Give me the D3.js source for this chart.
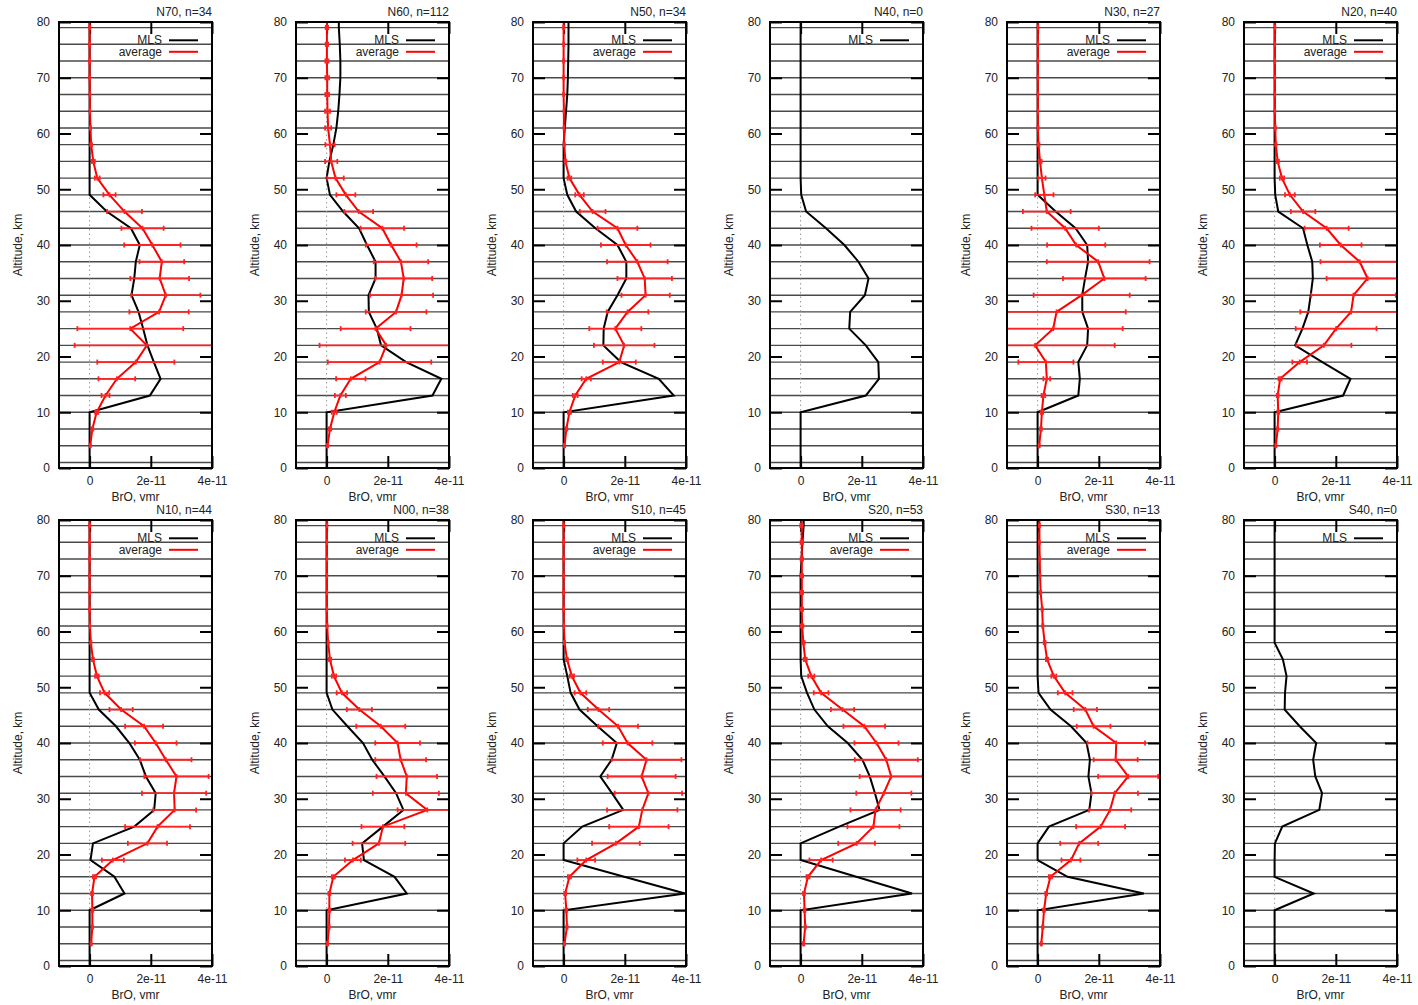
<!DOCTYPE html>
<html>
<head>
<meta charset="utf-8">
<script src="https://cdnjs.cloudflare.com/ajax/libs/d3/7.8.5/d3.min.js"></script>
<style>
body { margin: 0; background: #fff; }
svg text { font-family: "Liberation Sans", Arial, sans-serif; font-size: 12px; fill: #222; }
</style>
</head>
<body>
<svg id="chart" width="1418" height="1005"></svg>
<script>
// altitude levels, km (one per horizontal line)
var levels = [1, 4, 7, 10, 13, 16, 19, 22, 25, 28, 31, 34, 37, 40, 43, 46, 49, 52, 55, 58, 61, 64, 67, 70, 73, 76, 79];

// all BrO values below are in units of 1e-11 vmr
var UNIT = 1e-11;

var mlsN70 = [0,0,0,0,1.97,2.32,2.1,1.89,1.75,1.6,1.37,1.46,1.51,1.64,1.35,0.56,0,0,0,0,0,0,0,0,0,0,0];
var avgN70 = [null,0.02,0.09,0.23,0.52,0.89,1.51,1.87,1.33,2.27,2.49,2.29,2.36,2.05,1.73,1.14,0.65,0.25,0.12,0.05,0.03,0.01,0.01,0,0,0,0];
var errN70 = [null,0.02,0.03,0.05,0.13,0.6,1.26,2.36,1.73,0.97,1.13,0.96,0.73,0.92,0.69,0.57,0.2,0.08,0.05,0.03,0.02,0.01,0.01,0.01,0.01,0.01,0.01];

var mlsN60 = [0,0,0,0,3.46,3.75,2.6,1.78,1.64,1.38,1.37,1.6,1.6,1.32,1.06,0.54,0.11,0,0.09,0.22,0.32,0.38,0.42,0.45,0.45,0.43,0.4];
var avgN60 = [null,0.03,0.11,0.25,0.45,0.79,1.73,1.95,1.6,2.27,2.45,2.52,2.43,2.11,1.82,1.05,0.63,0.29,0.15,0.11,0.05,0.03,0.02,0.02,0.01,0.01,0.01];
var errN60 = [null,0.02,0.04,0.08,0.18,0.48,1.69,2.18,1.14,0.99,1.03,0.93,0.89,0.83,0.71,0.47,0.31,0.27,0.2,0.15,0.1,0.08,0.06,0.06,0.05,0.04,0.04];

var mlsN50 = [0,0,0,0,3.6,3.11,1.87,1.3,1.31,1.44,1.76,2.05,2.05,1.76,1.04,0.41,0.12,0,0,0,0.04,0.08,0.12,0.14,0.15,0.16,0.16];
var avgN50 = [null,0.03,0.09,0.19,0.38,0.74,1.82,1.98,1.69,2.09,2.68,2.65,2.41,2.03,1.76,0.95,0.52,0.19,0.06,0.02,0.01,0.01,0,0,0,0,0];
var errN50 = [null,0.02,0.03,0.05,0.08,0.15,0.54,0.99,0.85,0.68,0.79,0.89,0.99,0.81,0.65,0.42,0.14,0.06,0.03,0.02,0.01,0.01,0.01,0.01,0.01,0.01,0.01];

var mlsN40 = [0,0,0,0,2.13,2.56,2.54,2.13,1.59,1.62,2.1,2.22,1.89,1.43,0.83,0.18,0.02,0,0,0,0,0,0,0,0,0,0];

var mlsN30 = [0,0,0,0,1.33,1.38,1.33,1.62,1.65,1.46,1.46,1.55,1.65,1.62,1.24,0.59,0,0,0,0,0,0,0,0,0,0,0];
var avgN30 = [null,0.05,0.11,0.14,0.19,0.3,0.27,-0.08,0.51,0.62,1.44,2.18,1.98,1.26,0.9,0.3,0.22,0.14,0.08,0.03,0.01,0.01,0.01,0.01,0.01,0.01,0.01];
var errN30 = [null,0.02,0.03,0.04,0.06,0.11,0.9,2.6,2.27,2.26,1.57,1.35,1.68,0.95,1.1,0.78,0.3,0.12,0.05,0.03,0.02,0.01,0.01,0.01,0.01,0.01,0.01];

var mlsN20 = [0,0,0,0,2.24,2.48,1.56,0.67,0.91,1.1,1.18,1.25,1.23,1.07,0.93,0.12,0.02,0,0,0,0,0,0,0,0,0,0];
var avgN20 = [null,0.04,0.1,0.12,0.1,0.18,0.82,1.61,2.01,2.5,2.58,3.04,2.78,2.16,1.7,0.93,0.5,0.24,0.1,0.04,0.02,0.01,0.01,0.01,0.01,0.01,0.01];
var errN20 = [null,0.02,0.02,0.03,0.03,0.05,0.24,0.9,1.32,1.66,1.38,1.34,1.28,0.68,0.72,0.4,0.16,0.07,0.04,0.02,0.02,0.01,0.01,0.01,0.01,0.01,0.01];

var mlsN10 = [0,0,0,0,1.14,0.81,0.03,0.11,1.46,2.11,2.16,1.84,1.64,1.3,0.86,0.3,0,0,0,0,0,0,0,0,0,0,0];
var avgN10 = [null,0.05,0.09,0.09,0.08,0.16,0.76,1.89,2.22,2.78,2.76,2.84,2.49,2.16,1.78,1.03,0.49,0.24,0.11,0.04,0.01,0,0,0,0,0,0];
var errN10 = [null,0.02,0.02,0.03,0.03,0.05,0.36,0.64,1.06,0.7,1.05,1.05,0.84,0.68,0.62,0.38,0.15,0.06,0.03,0.02,0.01,0.01,0.01,0.01,0.01,0.01,0.01];

var mlsN00 = [0,0,0,0,2.62,2.22,1.22,1.16,1.84,2.51,2.27,1.89,1.49,1.19,0.68,0.19,0,0,0,0,0,0,0,0,0,0,0];
var avgN00 = [null,0.03,0.08,0.09,0.09,0.22,0.86,1.71,1.84,3.29,2.59,2.62,2.42,2.32,1.77,1.07,0.5,0.24,0.11,0.05,0.02,0.01,0.01,0.01,0.01,0.01,0.01];
var errN00 = [null,0.02,0.02,0.03,0.03,0.05,0.26,0.86,0.7,0.97,1.08,0.99,0.83,0.73,0.8,0.41,0.17,0.07,0.04,0.02,0.01,0.01,0.01,0.01,0.01,0.01,0.01];

var mlsS10 = [0,0,0,0,3.97,1.98,0,0,0.61,1.95,1.58,1.2,1.57,1.74,1.11,0.52,0.23,0.12,0,0,0,0,0,0,0,0,0];
var avgS10 = [null,0.03,0.11,0.09,0.05,0.19,0.74,1.71,2.46,2.57,2.77,2.55,2.71,2.09,1.78,1.14,0.55,0.27,0.11,0.03,0.01,0,0,0,0,0,0];
var errS10 = [null,0.02,0.02,0.03,0.03,0.05,0.29,0.78,0.97,1.15,1.1,1.11,1.14,0.81,0.65,0.35,0.19,0.07,0.03,0.02,0.01,0.01,0.01,0.01,0.01,0.01,0.01];

var mlsS20 = [0,0,0,0,3.64,1.82,0,0,1.26,2.58,2.43,2.26,2.02,1.54,0.89,0.45,0.21,0.02,0,0,0,0,0,0,0.03,0.06,0.1];
var avgS20 = [null,0.1,0.15,0.13,0.11,0.24,0.67,1.83,2.38,2.45,2.72,2.96,2.8,2.48,2.08,1.37,0.67,0.35,0.15,0.09,0.05,0.04,0.04,0.04,0.04,0.04,0.03];
var errS20 = [null,0.02,0.02,0.03,0.03,0.05,0.38,0.6,0.85,0.82,0.9,1.03,1.03,0.72,0.68,0.38,0.24,0.1,0.05,0.04,0.04,0.04,0.04,0.04,0.04,0.04,0.04];

var mlsS30 = [0,0,0,0,3.47,0.98,0,0,0.37,1.69,1.76,1.66,1.71,1.6,1.09,0.42,0.03,0,0,0,0,0,0,0,0,0,0];
var avgS30 = [null,0.12,0.17,0.21,0.28,0.42,1.09,1.36,2.06,2.37,2.52,2.96,2.55,2.57,1.83,1.56,0.9,0.53,0.31,0.23,0.17,0.15,0.1,0.08,0.07,0.06,0.06];
var errS30 = [null,0.02,0.02,0.03,0.03,0.05,0.31,0.62,0.8,0.69,0.76,0.98,0.72,0.94,0.55,0.38,0.24,0.08,0.04,0.03,0.02,0.02,0.02,0.01,0.01,0.01,0.01];

var mlsS40 = [0,0,0,0,1.28,0,0,0.01,0.25,1.46,1.55,1.33,1.26,1.36,0.82,0.33,0.34,0.39,0.27,0,0,0,0,0,0,0,0];

var panelNames  = ["N70", "N60", "N50", "N40", "N30", "N20", "N10", "N00", "S10", "S20", "S30", "S40"];
var panelCounts = [34, 112, 34, 0, 27, 40, 44, 38, 45, 53, 13, 0];
var panelMls = [mlsN70, mlsN60, mlsN50, mlsN40, mlsN30, mlsN20, mlsN10, mlsN00, mlsS10, mlsS20, mlsS30, mlsS40];
var panelAvg = [avgN70, avgN60, avgN50, null, avgN30, avgN20, avgN10, avgN00, avgS10, avgS20, avgS30, null];
var panelErr = [errN70, errN60, errN50, null, errN30, errN20, errN10, errN00, errS10, errS20, errS30, null];

var xTicks = [0, 2e-11, 4e-11];
var yTicks = [0, 10, 20, 30, 40, 50, 60, 70, 80];

var LAYOUT = {
    "left": 59,
    "top": 22,
    "width": 153,
    "height": 446,
    "col_step": 237,
    "row_step": 498,
    "cols": 6,
    "tick": 12
};

var svg = d3.select("#chart");

var x = d3.scaleLinear().domain([-1e-11, 4e-11]).range([0, LAYOUT.width]);
var y = d3.scaleLinear().domain([0, 80]).range([LAYOUT.height, 0]);

var fmtX = function (d) { return d === 0 ? "0" : d3.format(".0e")(d); };

var line = d3.line()
    .defined(function (d) { return d.v != null; })
    .x(function (d) { return x(d.v * UNIT); })
    .y(function (d) { return y(d.a); });

// pad profile to the plot top (and bottom for MLS)
function profile(vals, padBottom) {
    var pts = levels.map(function (a, i) { return { a: a, v: vals[i] }; });
    var first = pts.find(function (d) { return d.v != null; });
    if (padBottom) pts.unshift({ a: 0, v: first.v });
    pts.push({ a: 80, v: vals[vals.length - 1] });
    return pts;
}

svg.append("defs").append("clipPath")
    .attr("id", "plot-clip")
    .append("rect")
    .attr("width", LAYOUT.width)
    .attr("height", LAYOUT.height);

panelNames.forEach(function (name, p) {
    var col = p % LAYOUT.cols, row = Math.floor(p / LAYOUT.cols);
    var g = svg.append("g")
        .attr("transform", "translate(" + (LAYOUT.left + col * LAYOUT.col_step) + "," + (LAYOUT.top + row * LAYOUT.row_step) + ")");

    // horizontal level lines
    g.append("g").selectAll("line")
        .data(levels)
        .join("line")
        .attr("x1", 0).attr("x2", LAYOUT.width)
        .attr("y1", function (d) { return y(d); })
        .attr("y2", function (d) { return y(d); })
        .attr("stroke", "#4a4a4a")
        .attr("stroke-width", 1.4);

    // zero line
    g.append("line")
        .attr("x1", x(0)).attr("x2", x(0))
        .attr("y1", 0).attr("y2", LAYOUT.height)
        .attr("stroke", "#999")
        .attr("stroke-width", 1)
        .attr("stroke-dasharray", "1.5,3");

    // axes (inward ticks on all four sides)
    var axL = g.append("g").call(d3.axisLeft(y).tickValues(yTicks).tickSizeInner(-LAYOUT.tick).tickSizeOuter(0).tickPadding(9));
    var axR = g.append("g").attr("transform", "translate(" + LAYOUT.width + ",0)")
        .call(d3.axisRight(y).tickValues(yTicks).tickSizeInner(-LAYOUT.tick).tickSizeOuter(0).tickFormat(""));
    var axB = g.append("g").attr("transform", "translate(0," + LAYOUT.height + ")")
        .call(d3.axisBottom(x).tickValues(xTicks).tickSizeInner(-LAYOUT.tick).tickSizeOuter(0).tickPadding(8).tickFormat(fmtX));
    var axT = g.append("g")
        .call(d3.axisTop(x).tickValues(xTicks).tickSizeInner(-LAYOUT.tick).tickSizeOuter(0).tickFormat(""));
    [axL, axR, axB, axT].forEach(function (ax) {
        ax.select(".domain").remove();
        ax.selectAll(".tick line").attr("stroke", "#000").attr("stroke-width", 2);
        ax.selectAll("text").attr("font-family", null).attr("font-size", null).attr("fill", "#222");
    });

    var plot = g.append("g").attr("clip-path", "url(#plot-clip)");

    // MLS profile
    plot.append("path")
        .datum(profile(panelMls[p], true))
        .attr("d", line)
        .attr("fill", "none")
        .attr("stroke", "#000")
        .attr("stroke-width", 2);

    var avg = panelAvg[p];
    if (avg) {
        var err = panelErr[p];
        var bars = levels.map(function (a, i) { return { a: a, v: avg[i], e: err[i] }; })
            .filter(function (d) { return d.v != null; });

        plot.append("path")
            .datum(profile(avg, false))
            .attr("d", line)
            .attr("fill", "none")
            .attr("stroke", "#f00")
            .attr("stroke-width", 2);

        var eb = plot.append("g")
            .attr("stroke", "#f22")
            .attr("stroke-width", 1.8)
            .selectAll("g")
            .data(bars)
            .join("g");
        eb.append("line")
            .attr("x1", function (d) { return x((d.v - d.e) * UNIT); })
            .attr("x2", function (d) { return x((d.v + d.e) * UNIT); })
            .attr("y1", function (d) { return y(d.a); })
            .attr("y2", function (d) { return y(d.a); });
        [-1, 0, 1].forEach(function (s) {
            eb.append("line")
                .attr("x1", function (d) { return x((d.v + s * d.e) * UNIT); })
                .attr("x2", function (d) { return x((d.v + s * d.e) * UNIT); })
                .attr("y1", function (d) { return y(d.a) - 2.5; })
                .attr("y2", function (d) { return y(d.a) + 2.5; });
        });
    }

    // frame
    g.append("rect")
        .attr("width", LAYOUT.width)
        .attr("height", LAYOUT.height)
        .attr("fill", "none")
        .attr("stroke", "#000")
        .attr("stroke-width", 2);

    // title, axis labels
    g.append("text")
        .attr("x", LAYOUT.width)
        .attr("y", -6)
        .attr("text-anchor", "end")
        .text(name + ", n=" + panelCounts[p]);

    g.append("text")
        .attr("x", LAYOUT.width / 2)
        .attr("y", LAYOUT.height + 33)
        .attr("text-anchor", "middle")
        .text("BrO, vmr");

    g.append("text")
        .attr("transform", "translate(-37," + (LAYOUT.height / 2) + ") rotate(-90)")
        .attr("text-anchor", "middle")
        .text("Altitude, km");

    // legend
    var legendItems = avg ? [["MLS", "#000"], ["average", "#f00"]] : [["MLS", "#000"]];
    var lg = g.append("g").selectAll("g")
        .data(legendItems)
        .join("g")
        .attr("transform", function (d, i) { return "translate(0," + (18.3 + i * 11.5) + ")"; });
    lg.append("text")
        .attr("x", LAYOUT.width - 50)
        .attr("y", 4)
        .attr("text-anchor", "end")
        .text(function (d) { return d[0]; });
    lg.append("line")
        .attr("x1", LAYOUT.width - 43)
        .attr("x2", LAYOUT.width - 14)
        .attr("stroke", function (d) { return d[1]; })
        .attr("stroke-width", 2);
});
</script>
</body>
</html>
